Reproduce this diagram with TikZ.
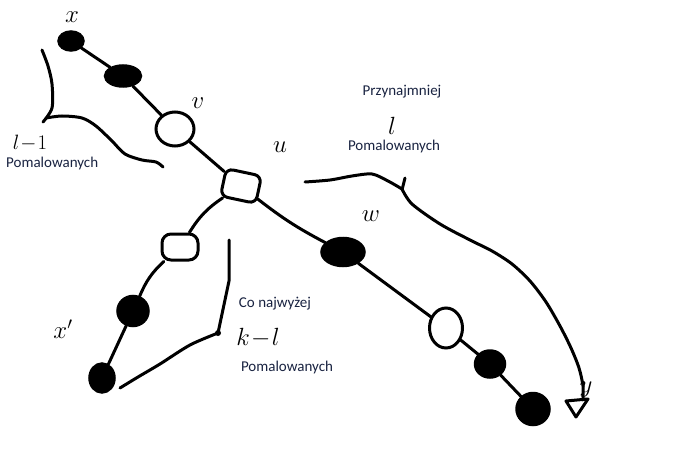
\documentclass[tikz,border=0pt]{standalone}
\usepackage{fontspec}
\setmainfont{Carlito}
\usetikzlibrary{shapes.geometric}
\definecolor{txt}{RGB}{25,35,65}
\tikzset{
  stroke/.style={line width=3pt, line cap=round, line join=round},
  blk/.style={ellipse, draw, fill=black, line width=1.5pt, inner sep=0pt},
  wht/.style={ellipse, draw, fill=white, line width=3pt, inner sep=0pt},
  whtbox/.style={rectangle, rounded corners=7pt, draw, fill=white, line width=3pt, inner sep=0pt},
  lab/.style={text=txt, font=\fontsize{15}{16}\selectfont, inner sep=0pt},
  hand/.style={font=\fontsize{26}{26}\selectfont, inner sep=0pt}
}
\begin{document}
\begin{tikzpicture}[x=1pt,y=-1pt]
\useasboundingbox (0,0) rectangle (692,449);
\fill[white] (0,0) rectangle (692,449);

% nodes
\node[blk, minimum width=26pt, minimum height=20pt] (a) at (71,41) {};
\node[blk, minimum width=37pt, minimum height=22pt] (b) at (123,76) {};
\node[wht, minimum width=38pt, minimum height=34pt] (v) at (175,129) {};
\node[whtbox, minimum width=36pt, minimum height=28pt, rotate=-12] (u) at (241,186) {};
\node[whtbox, rounded corners=9pt, minimum width=36pt, minimum height=26pt] (c) at (180,247) {};
\node[blk, minimum width=32pt, minimum height=31pt] (d) at (133,311) {};
\node[blk, minimum width=26pt, minimum height=30pt] (e) at (102,378) {};
\node[blk, minimum width=44pt, minimum height=29pt] (w) at (343,252) {};
\node[wht, minimum width=33pt, minimum height=40pt] (f) at (446,328) {};
\node[blk, minimum width=31pt, minimum height=28pt] (g) at (490,364) {};
\node[blk, minimum width=34pt, minimum height=33pt] (h) at (533,409) {};

% edges
\draw[stroke] (a) -- (b);
\draw[stroke] (b) -- (v);
\draw[stroke] (v) -- (u);
\draw[stroke] (u) to[bend right=12] (c);
\draw[stroke] (c) to[bend right=12] (d);
\draw[stroke] (d) -- (e);
\draw[stroke] (u) to[bend right=5] (w);
\draw[stroke] (w) -- (f);
\draw[stroke] (f) -- (g);
\draw[stroke] (g) -- (h);

% left brace
\draw[stroke] plot[smooth] coordinates {(42,50) (48,66) (52,84) (52,108) (43,122)};
\draw[stroke] plot[smooth] coordinates {(46,118) (62,116) (82,118) (96,126) (112,141) (125,154) (142,160) (156,162) (163,167)};

% right brace with arrow
\draw[stroke] plot[smooth] coordinates {(305,182) (330,180) (352,176) (372,174) (388,181) (402,189)};
\draw[stroke] (405,178) -- (402,190);
\draw[stroke] plot[smooth] coordinates {(402,189) (412,204) (440,224) (470,240) (492,251) (512,264) (530,281) (546,302) (560,326) (571,348) (579,368) (583,386) (583,400)};
\draw[stroke] (566,401) -- (588,399) -- (576,417) -- cycle;
\coordinate (ytip) at (583,400);

% bottom brace
\draw[stroke] (229,240) -- (229,281) -- (218,333);
\draw[stroke] plot[smooth] coordinates {(218,333) (190,345) (160,364) (138,377) (120,388)};
\fill (218,333) circle (3pt);

% printed labels
\node[lab, anchor=west] (t1) at (6,164) {Pomalowanych};
\node[lab] (t2) at (402,92) {Przynajmniej};
\node[lab] (t3) at (394,147) {Pomalowanych};
\node[lab] (t4) at (275,304) {Co najwyżej};
\node[lab] (t5) at (287,367) {Pomalowanych};

% handwritten labels
\node[hand] (lx) at (72,17) {$x$};
\node[hand] (lv) at (198,103) {$v$};
\node[hand] (lu) at (280,147) {$u$};
\node[hand] (lw) at (371,216) {$w$};
\node[hand] (lxp) at (63,329) {$x'$};
\node[hand] (lkl) at (258,338) {$k\!-\!l$};
\node[hand, font=\fontsize{22}{22}\selectfont] (ll1) at (30,143) {$l\!-\!1$};
\node[hand] (ll) at (392,126) {$l$};
\node[hand] (ly) at (586,390) {$y$};
\end{tikzpicture}
\end{document}
